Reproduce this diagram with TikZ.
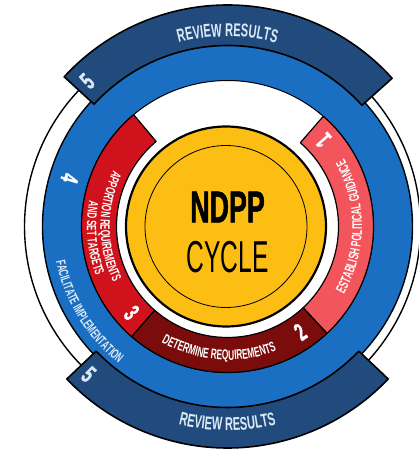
\documentclass[tikz,border=0pt]{standalone}
\usepackage{fontspec}
\setmainfont{Liberation Sans}
\newfontfamily\cf[FakeStretch=0.6]{Liberation Sans}
\newfontfamily\cfb[FakeStretch=0.6, BoldFeatures={FakeBold=1.2}]{Liberation Sans}
\newfontfamily\cfr[FakeStretch=0.55]{Liberation Sans}
\usetikzlibrary{decorations.text}
\definecolor{ringblue}{HTML}{1A6FC3}
\definecolor{bandblue}{HTML}{214B7D}
\definecolor{redA}{HTML}{D0121C}
\definecolor{redB}{HTML}{7A0C0C}
\definecolor{redC}{HTML}{F2555B}
\definecolor{coreyellow}{HTML}{FDBE14}
\definecolor{paletext}{HTML}{DCEAF7}
\newcommand{\annseg}[4]{(#1:#3) arc[start angle=#1, end angle=#2, radius=#3] -- (#2:#4) arc[start angle=#2, end angle=#1, radius=#4] -- cycle}
\tikzset{
  bandseg/.style={fill=bandblue, draw=black, line width=1.6pt},
  redseg/.style={draw=black, line width=1.2pt},
  digit/.style={text=white, inner sep=0pt, font=\cfb\bfseries\fontsize{25}{25}\selectfont},
  arctext/.style={decorate, decoration={text along path, text align=center, text color=#1}},
}
\begin{document}
\begin{tikzpicture}[x=1pt,y=1pt,line join=round]
\useasboundingbox (0,0) rectangle (419,451);
\fill[white] (0,0) rectangle (419,451);
% outer thin ring line
\draw[line width=1.4pt] (222.5,224.5) circle[radius=198pt];
\begin{scope}[shift={(227.5,224.5)}]
  % blue ring
  \fill[ringblue, even odd rule] (0,0) circle[radius=185pt] (0,0) circle[radius=146pt];
  \draw[line width=1.4pt] (0,0) circle[radius=185pt];
  \draw[line width=1pt] (0,0) circle[radius=146pt];
  % dark review bands
  \path[bandseg] \annseg{42}{137.5}{221.5pt}{181pt};
  \path[bandseg] \annseg{223.5}{316.5}{221.5pt}{181pt};
  % red segments
  \path[redseg, fill=redA] \annseg{130}{229}{146pt}{111pt};
  \path[redseg, fill=redB] \annseg{229}{313}{146pt}{111pt};
  \path[redseg, fill=redC] \annseg{313}{409}{146pt}{111pt};
  % core
  \filldraw[fill=coreyellow, line width=2.2pt] (-1.5,0) circle[radius=100pt];
  \draw[line width=0.8pt] (-1.5,0) circle[radius=81pt];
  \node[inner sep=0pt, font=\cfb\bfseries\fontsize{44.7}{44.7}\selectfont] (ndpp) at (0,19.5) {NDPP};
  \node[inner sep=0pt, font=\cfr\fontsize{44.7}{44.7}\selectfont] (cycle) at (0,-30.5) {CYCLE};
  % arc texts
  \path[arctext=paletext, decoration={text={|\cf\bfseries\fontsize{18.5}{20}\selectfont|REVIEW RESULTS}}]
     (145:190pt) arc[start angle=145, end angle=35, radius=190pt];
  \path[arctext=paletext, decoration={text={|\cf\bfseries\fontsize{18.5}{20}\selectfont|REVIEW RESULTS}}]
     (220:204pt) arc[start angle=220, end angle=320, radius=204pt];
  \path[arctext=paletext, decoration={text={|\cf\bfseries\fontsize{13.5}{14}\selectfont|FACILITATE IMPLEMENTATION}}]
     (161.5:175pt) arc[start angle=161.5, end angle=261.5, radius=175pt];
  \path[arctext=white, decoration={text={|\cf\bfseries\fontsize{13.5}{14}\selectfont|APPORTION REQUIREMENTS}}]
     (130:127pt) arc[start angle=130, end angle=230, radius=127pt];
  \path[arctext=white, decoration={text={|\cf\bfseries\fontsize{13.5}{14}\selectfont|AND SET TARGETS}}]
     (135:140.5pt) arc[start angle=135, end angle=235, radius=140.5pt];
  \path[arctext=white, decoration={text={|\cf\bfseries\fontsize{14}{14}\selectfont|DETERMINE REQUIREMENTS}}]
     (216:133.5pt) arc[start angle=216, end angle=316, radius=133.5pt];
  \path[arctext=white, decoration={text={|\cf\bfseries\fontsize{14}{14}\selectfont|ESTABLISH POLITICAL GUIDANCE}}]
     (-60:134.5pt) arc[start angle=-60, end angle=60, radius=134.5pt];
  % digits
  \node[digit, text=paletext, rotate=44] (d5a) at (134:202pt) {5};
  \node[digit, text=paletext, rotate=-43] (d5b) at (226.8:203pt) {5};
  \node[digit, rotate=-107] (d4) at (163:165pt) {4};
  \node[digit, rotate=-48] (d3) at (222:129pt) {3};
  \node[digit, rotate=34.6] (d2) at (304.6:128pt) {2};
  \node[digit, rotate=132] (d1) at (42:129pt) {1};
\end{scope}
\end{tikzpicture}
\end{document}
